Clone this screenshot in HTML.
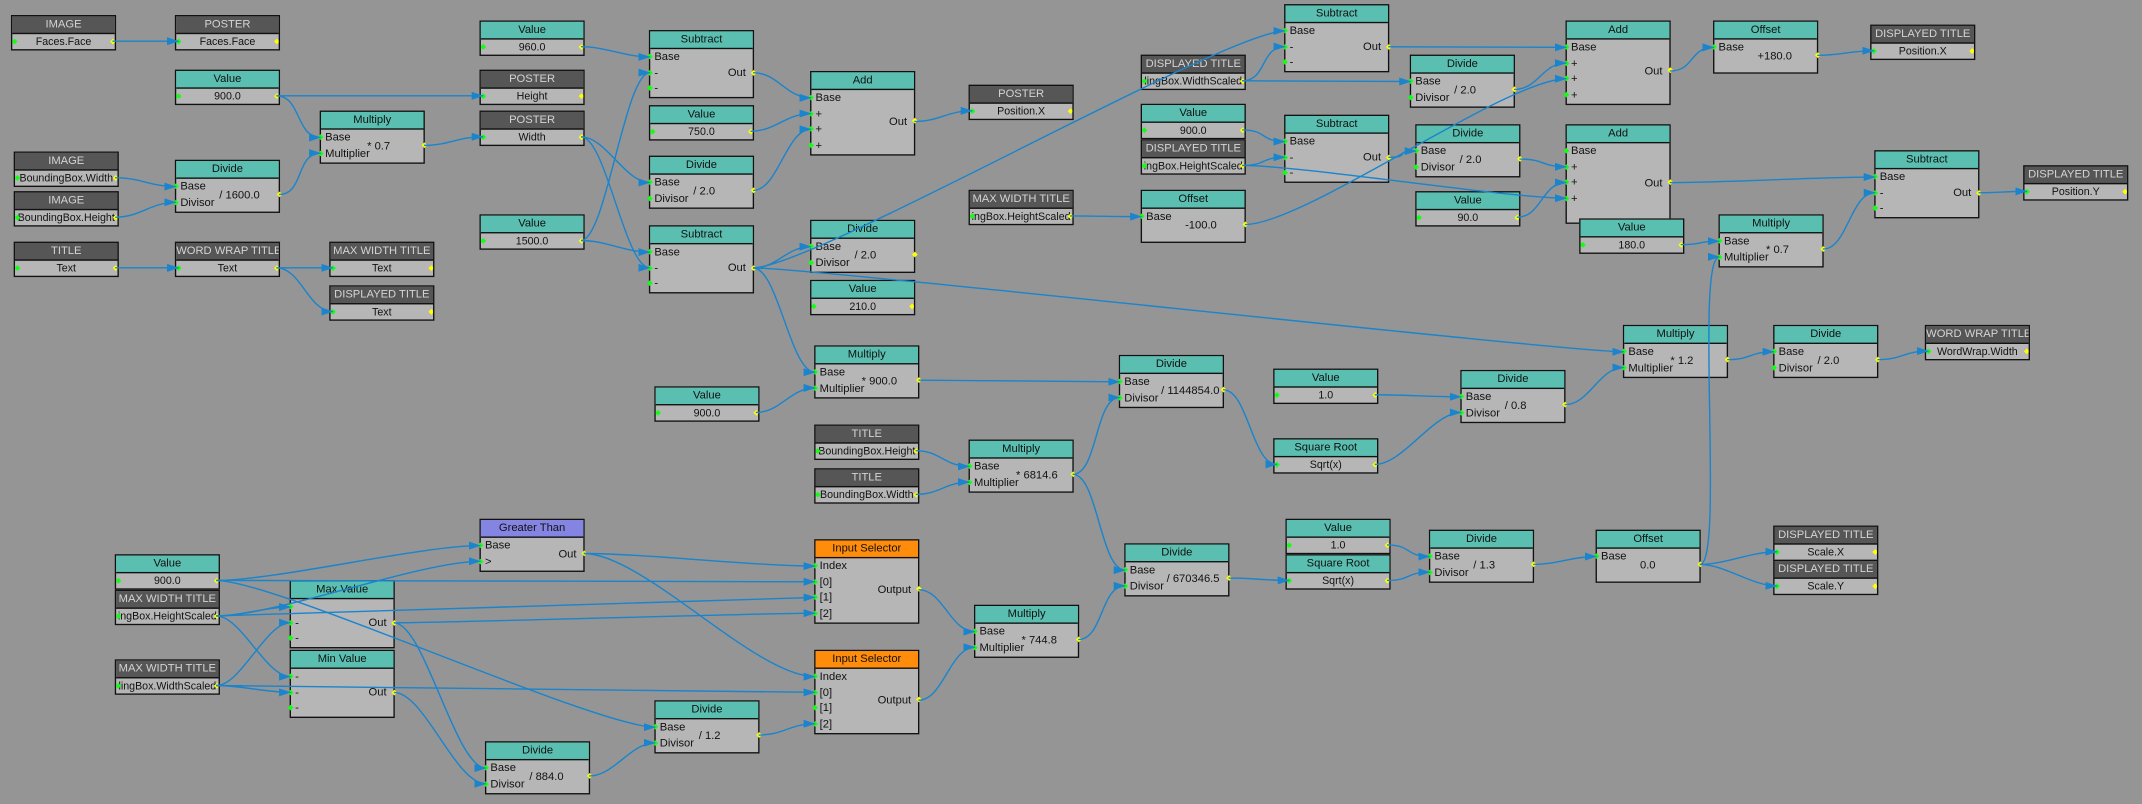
<!DOCTYPE html>
<html><head><meta charset="utf-8"><style>
html,body{margin:0;padding:0;background:#959595;width:2142px;height:804px;overflow:hidden}
#c{position:absolute;left:0;top:0;width:1568px;height:589px;transform:scale(1.36607,1.36503);transform-origin:0 0}
.n{position:absolute;border:1px solid #111;background:#b6b6b6;font:8.2px "Liberation Sans",sans-serif;color:#111;box-sizing:border-box;width:77px}
.h{height:11.5px;line-height:11.5px;text-align:center;background:#5abfb0;border-bottom:1px solid #111;color:#111;white-space:nowrap;overflow:hidden}
.h.d{background:#565656;color:#d4d4d4}
.h.p{background:#8484e2}
.h.o{background:#ff8c0a}
.r{height:11.5px;line-height:11.5px;padding-left:3px;position:relative;white-space:nowrap}
.v{text-align:center;padding:0;font-size:7.8px;overflow:hidden}
.bd{position:relative;padding:0.5px 0}
.pi,.po{position:absolute;width:3.4px;height:3.4px;transform:rotate(45deg);display:block}
.pi{left:-2px;top:4px;background:#1f1}
.po{right:-2px;top:4px;background:#ff0}
.v .pi{left:0}
.v .po{right:0}
.po.m{top:calc(50% - 1.7px)}
.prm{position:absolute;left:42%;top:50%;transform:translateY(-50%);white-space:nowrap}
.ot{position:absolute;right:5px;top:50%;transform:translateY(-50%)}
svg{position:absolute;left:0;top:0}
</style></head><body>
<svg id="w" width="2142" height="804"><defs><marker id="ar" markerWidth="12" markerHeight="8" refX="11.5" refY="4" orient="auto" markerUnits="userSpaceOnUse"><path d="M0,0 L12,4 L0,8 Z" fill="#1a84cc"/></marker></defs></svg>
<div id="c">
<div class="n" style="left:8px;top:11px"><div class="h d">IMAGE</div><div class="r v"><i class="pi" id="i1_0"></i>Faces.Face<i class="po" id="o1"></i></div></div>
<div class="n" style="left:128px;top:11px"><div class="h d">POSTER</div><div class="r v"><i class="pi" id="i2_0"></i>Faces.Face<i class="po" id="o2"></i></div></div>
<div class="n" style="left:128px;top:51px"><div class="h">Value</div><div class="r v"><i class="pi" id="i3_0"></i>900.0<i class="po" id="o3"></i></div></div>
<div class="n" style="left:234px;top:81px"><div class="h">Multiply</div><div class="bd"><div class="r"><i class="pi" id="i4_0"></i>Base</div><div class="r"><i class="pi" id="i4_1"></i>Multiplier</div><span class="prm" style="left:45%">* 0.7</span><i class="po m" id="o4"></i></div></div>
<div class="n" style="left:10px;top:111px"><div class="h d">IMAGE</div><div class="r v"><i class="pi" id="i5_0"></i>BoundingBox.Width<i class="po" id="o5"></i></div></div>
<div class="n" style="left:10px;top:140px"><div class="h d">IMAGE</div><div class="r v"><i class="pi" id="i6_0"></i>BoundingBox.Height<i class="po" id="o6"></i></div></div>
<div class="n" style="left:128px;top:117px"><div class="h">Divide</div><div class="bd"><div class="r"><i class="pi" id="i7_0"></i>Base</div><div class="r"><i class="pi" id="i7_1"></i>Divisor</div><span class="prm">/ 1600.0</span><i class="po m" id="o7"></i></div></div>
<div class="n" style="left:10px;top:177px"><div class="h d">TITLE</div><div class="r v"><i class="pi" id="i8_0"></i>Text<i class="po" id="o8"></i></div></div>
<div class="n" style="left:128px;top:177px"><div class="h d">WORD WRAP TITLE</div><div class="r v"><i class="pi" id="i9_0"></i>Text<i class="po" id="o9"></i></div></div>
<div class="n" style="left:241px;top:177px"><div class="h d">MAX WIDTH TITLE</div><div class="r v"><i class="pi" id="i10_0"></i>Text<i class="po" id="o10"></i></div></div>
<div class="n" style="left:241px;top:209px"><div class="h d">DISPLAYED TITLE</div><div class="r v"><i class="pi" id="i11_0"></i>Text<i class="po" id="o11"></i></div></div>
<div class="n" style="left:351px;top:15px"><div class="h">Value</div><div class="r v"><i class="pi" id="i12_0"></i>960.0<i class="po" id="o12"></i></div></div>
<div class="n" style="left:351px;top:51px"><div class="h d">POSTER</div><div class="r v"><i class="pi" id="i13_0"></i>Height<i class="po" id="o13"></i></div></div>
<div class="n" style="left:351px;top:81px"><div class="h d">POSTER</div><div class="r v"><i class="pi" id="i14_0"></i>Width<i class="po" id="o14"></i></div></div>
<div class="n" style="left:351px;top:157px"><div class="h">Value</div><div class="r v"><i class="pi" id="i15_0"></i>1500.0<i class="po" id="o15"></i></div></div>
<div class="n" style="left:475px;top:22px"><div class="h">Subtract</div><div class="bd"><div class="r"><i class="pi" id="i16_0"></i>Base</div><div class="r"><i class="pi" id="i16_1"></i>-</div><div class="r"><i class="pi" id="i16_2"></i>-</div><span class="ot">Out</span><i class="po m" id="o16"></i></div></div>
<div class="n" style="left:475px;top:77px"><div class="h">Value</div><div class="r v"><i class="pi" id="i17_0"></i>750.0<i class="po" id="o17"></i></div></div>
<div class="n" style="left:475px;top:114px"><div class="h">Divide</div><div class="bd"><div class="r"><i class="pi" id="i18_0"></i>Base</div><div class="r"><i class="pi" id="i18_1"></i>Divisor</div><span class="prm">/ 2.0</span><i class="po m" id="o18"></i></div></div>
<div class="n" style="left:475px;top:165px"><div class="h">Subtract</div><div class="bd"><div class="r"><i class="pi" id="i19_0"></i>Base</div><div class="r"><i class="pi" id="i19_1"></i>-</div><div class="r"><i class="pi" id="i19_2"></i>-</div><span class="ot">Out</span><i class="po m" id="o19"></i></div></div>
<div class="n" style="left:593px;top:52px"><div class="h">Add</div><div class="bd"><div class="r"><i class="pi" id="i20_0"></i>Base</div><div class="r"><i class="pi" id="i20_1"></i>+</div><div class="r"><i class="pi" id="i20_2"></i>+</div><div class="r"><i class="pi" id="i20_3"></i>+</div><span class="ot">Out</span><i class="po m" id="o20"></i></div></div>
<div class="n" style="left:593px;top:161px"><div class="h">Divide</div><div class="bd"><div class="r"><i class="pi" id="i21_0"></i>Base</div><div class="r"><i class="pi" id="i21_1"></i>Divisor</div><span class="prm">/ 2.0</span><i class="po m" id="o21"></i></div></div>
<div class="n" style="left:593px;top:205px"><div class="h">Value</div><div class="r v"><i class="pi" id="i22_0"></i>210.0<i class="po" id="o22"></i></div></div>
<div class="n" style="left:596px;top:253px"><div class="h">Multiply</div><div class="bd"><div class="r"><i class="pi" id="i23_0"></i>Base</div><div class="r"><i class="pi" id="i23_1"></i>Multiplier</div><span class="prm" style="left:45%">* 900.0</span><i class="po m" id="o23"></i></div></div>
<div class="n" style="left:479px;top:283px"><div class="h">Value</div><div class="r v"><i class="pi" id="i24_0"></i>900.0<i class="po" id="o24"></i></div></div>
<div class="n" style="left:709px;top:62px"><div class="h d">POSTER</div><div class="r v"><i class="pi" id="i25_0"></i>Position.X<i class="po" id="o25"></i></div></div>
<div class="n" style="left:709px;top:139px"><div class="h d">MAX WIDTH TITLE</div><div class="r v"><i class="pi" id="i26_0"></i>ingBox.HeightScaled<i class="po" id="o26"></i></div></div>
<div class="n" style="left:835px;top:139px"><div class="h">Offset</div><div class="bd"><div class="r"><i class="pi" id="i27_0"></i>Base</div><div class="r"></div><span class="prm">-100.0</span><i class="po m" id="o27"></i></div></div>
<div class="n" style="left:835px;top:40px"><div class="h d">DISPLAYED TITLE</div><div class="r v"><i class="pi" id="i28_0"></i>lingBox.WidthScaled<i class="po" id="o28"></i></div></div>
<div class="n" style="left:835px;top:76px"><div class="h">Value</div><div class="r v"><i class="pi" id="i29_0"></i>900.0<i class="po" id="o29"></i></div></div>
<div class="n" style="left:835px;top:102px"><div class="h d">DISPLAYED TITLE</div><div class="r v"><i class="pi" id="i30_0"></i>ingBox.HeightScaled<i class="po" id="o30"></i></div></div>
<div class="n" style="left:940px;top:3px"><div class="h">Subtract</div><div class="bd"><div class="r"><i class="pi" id="i31_0"></i>Base</div><div class="r"><i class="pi" id="i31_1"></i>-</div><div class="r"><i class="pi" id="i31_2"></i>-</div><span class="ot">Out</span><i class="po m" id="o31"></i></div></div>
<div class="n" style="left:1032px;top:40px"><div class="h">Divide</div><div class="bd"><div class="r"><i class="pi" id="i32_0"></i>Base</div><div class="r"><i class="pi" id="i32_1"></i>Divisor</div><span class="prm">/ 2.0</span><i class="po m" id="o32"></i></div></div>
<div class="n" style="left:940px;top:84px"><div class="h">Subtract</div><div class="bd"><div class="r"><i class="pi" id="i33_0"></i>Base</div><div class="r"><i class="pi" id="i33_1"></i>-</div><div class="r"><i class="pi" id="i33_2"></i>-</div><span class="ot">Out</span><i class="po m" id="o33"></i></div></div>
<div class="n" style="left:1036px;top:91px"><div class="h">Divide</div><div class="bd"><div class="r"><i class="pi" id="i34_0"></i>Base</div><div class="r"><i class="pi" id="i34_1"></i>Divisor</div><span class="prm">/ 2.0</span><i class="po m" id="o34"></i></div></div>
<div class="n" style="left:1036px;top:140px"><div class="h">Value</div><div class="r v"><i class="pi" id="i35_0"></i>90.0<i class="po" id="o35"></i></div></div>
<div class="n" style="left:1146px;top:15px"><div class="h">Add</div><div class="bd"><div class="r"><i class="pi" id="i36_0"></i>Base</div><div class="r"><i class="pi" id="i36_1"></i>+</div><div class="r"><i class="pi" id="i36_2"></i>+</div><div class="r"><i class="pi" id="i36_3"></i>+</div><span class="ot">Out</span><i class="po m" id="o36"></i></div></div>
<div class="n" style="left:1146px;top:91px"><div class="h">Add</div><div class="bd"><div class="r"><i class="pi" id="i37_0"></i>Base</div><div class="r"><i class="pi" id="i37_1"></i>+</div><div class="r"><i class="pi" id="i37_2"></i>+</div><div class="r"><i class="pi" id="i37_3"></i>+</div><div class="r"></div><span class="ot">Out</span><i class="po m" id="o37"></i></div></div>
<div class="n" style="left:1254px;top:15px"><div class="h">Offset</div><div class="bd"><div class="r"><i class="pi" id="i38_0"></i>Base</div><div class="r"></div><span class="prm">+180.0</span><i class="po m" id="o38"></i></div></div>
<div class="n" style="left:1369px;top:18px"><div class="h d">DISPLAYED TITLE</div><div class="r v"><i class="pi" id="i39_0"></i>Position.X<i class="po" id="o39"></i></div></div>
<div class="n" style="left:1372px;top:110px"><div class="h">Subtract</div><div class="bd"><div class="r"><i class="pi" id="i40_0"></i>Base</div><div class="r"><i class="pi" id="i40_1"></i>-</div><div class="r"><i class="pi" id="i40_2"></i>-</div><span class="ot">Out</span><i class="po m" id="o40"></i></div></div>
<div class="n" style="left:1481px;top:121px"><div class="h d">DISPLAYED TITLE</div><div class="r v"><i class="pi" id="i41_0"></i>Position.Y<i class="po" id="o41"></i></div></div>
<div class="n" style="left:1156px;top:160px"><div class="h">Value</div><div class="r v"><i class="pi" id="i42_0"></i>180.0<i class="po" id="o42"></i></div></div>
<div class="n" style="left:1258px;top:157px"><div class="h">Multiply</div><div class="bd"><div class="r"><i class="pi" id="i43_0"></i>Base</div><div class="r"><i class="pi" id="i43_1"></i>Multiplier</div><span class="prm" style="left:45%">* 0.7</span><i class="po m" id="o43"></i></div></div>
<div class="n" style="left:1188px;top:238px"><div class="h">Multiply</div><div class="bd"><div class="r"><i class="pi" id="i44_0"></i>Base</div><div class="r"><i class="pi" id="i44_1"></i>Multiplier</div><span class="prm" style="left:45%">* 1.2</span><i class="po m" id="o44"></i></div></div>
<div class="n" style="left:1298px;top:238px"><div class="h">Divide</div><div class="bd"><div class="r"><i class="pi" id="i45_0"></i>Base</div><div class="r"><i class="pi" id="i45_1"></i>Divisor</div><span class="prm">/ 2.0</span><i class="po m" id="o45"></i></div></div>
<div class="n" style="left:1409px;top:238px"><div class="h d">WORD WRAP TITLE</div><div class="r v"><i class="pi" id="i46_0"></i>WordWrap.Width<i class="po" id="o46"></i></div></div>
<div class="n" style="left:819px;top:260px"><div class="h">Divide</div><div class="bd"><div class="r"><i class="pi" id="i47_0"></i>Base</div><div class="r"><i class="pi" id="i47_1"></i>Divisor</div><span class="prm" style="left:40%">/ 1144854.0</span><i class="po m" id="o47"></i></div></div>
<div class="n" style="left:932px;top:270px"><div class="h">Value</div><div class="r v"><i class="pi" id="i48_0"></i>1.0<i class="po" id="o48"></i></div></div>
<div class="n" style="left:1069px;top:271px"><div class="h">Divide</div><div class="bd"><div class="r"><i class="pi" id="i49_0"></i>Base</div><div class="r"><i class="pi" id="i49_1"></i>Divisor</div><span class="prm">/ 0.8</span><i class="po m" id="o49"></i></div></div>
<div class="n" style="left:932px;top:321px"><div class="h">Square Root</div><div class="r v"><i class="pi" id="i50_0"></i>Sqrt(x)<i class="po" id="o50"></i></div></div>
<div class="n" style="left:596px;top:311px"><div class="h d">TITLE</div><div class="r v"><i class="pi" id="i51_0"></i>BoundingBox.Height<i class="po" id="o51"></i></div></div>
<div class="n" style="left:596px;top:343px"><div class="h d">TITLE</div><div class="r v"><i class="pi" id="i52_0"></i>BoundingBox.Width<i class="po" id="o52"></i></div></div>
<div class="n" style="left:709px;top:322px"><div class="h">Multiply</div><div class="bd"><div class="r"><i class="pi" id="i53_0"></i>Base</div><div class="r"><i class="pi" id="i53_1"></i>Multiplier</div><span class="prm" style="left:45%">* 6814.6</span><i class="po m" id="o53"></i></div></div>
<div class="n" style="left:351px;top:380px"><div class="h p">Greater Than</div><div class="bd"><div class="r"><i class="pi" id="i54_0"></i>Base</div><div class="r"><i class="pi" id="i54_1"></i>&gt;</div><span class="ot">Out</span><i class="po m" id="o54"></i></div></div>
<div class="n" style="left:84px;top:406px"><div class="h">Value</div><div class="r v"><i class="pi" id="i55_0"></i>900.0<i class="po" id="o55"></i></div></div>
<div class="n" style="left:84px;top:432px"><div class="h d">MAX WIDTH TITLE</div><div class="r v"><i class="pi" id="i56_0"></i>ingBox.HeightScaled<i class="po" id="o56"></i></div></div>
<div class="n" style="left:212px;top:425px"><div class="h">Max Value</div><div class="bd"><div class="r"><i class="pi" id="i57_0"></i></div><div class="r"><i class="pi" id="i57_1"></i>-</div><div class="r"><i class="pi" id="i57_2"></i>-</div><span class="ot">Out</span><i class="po m" id="o57"></i></div></div>
<div class="n" style="left:84px;top:483px"><div class="h d">MAX WIDTH TITLE</div><div class="r v"><i class="pi" id="i58_0"></i>lingBox.WidthScaled<i class="po" id="o58"></i></div></div>
<div class="n" style="left:212px;top:476px"><div class="h">Min Value</div><div class="bd"><div class="r"><i class="pi" id="i59_0"></i>-</div><div class="r"><i class="pi" id="i59_1"></i>-</div><div class="r"><i class="pi" id="i59_2"></i>-</div><span class="ot">Out</span><i class="po m" id="o59"></i></div></div>
<div class="n" style="left:596px;top:395px"><div class="h o">Input Selector</div><div class="bd"><div class="r"><i class="pi" id="i60_0"></i>Index</div><div class="r"><i class="pi" id="i60_1"></i>[0]</div><div class="r"><i class="pi" id="i60_2"></i>[1]</div><div class="r"><i class="pi" id="i60_3"></i>[2]</div><span class="ot">Output</span><i class="po m" id="o60"></i></div></div>
<div class="n" style="left:596px;top:476px"><div class="h o">Input Selector</div><div class="bd"><div class="r"><i class="pi" id="i61_0"></i>Index</div><div class="r"><i class="pi" id="i61_1"></i>[0]</div><div class="r"><i class="pi" id="i61_2"></i>[1]</div><div class="r"><i class="pi" id="i61_3"></i>[2]</div><span class="ot">Output</span><i class="po m" id="o61"></i></div></div>
<div class="n" style="left:713px;top:443px"><div class="h">Multiply</div><div class="bd"><div class="r"><i class="pi" id="i62_0"></i>Base</div><div class="r"><i class="pi" id="i62_1"></i>Multiplier</div><span class="prm" style="left:45%">* 744.8</span><i class="po m" id="o62"></i></div></div>
<div class="n" style="left:823px;top:398px"><div class="h">Divide</div><div class="bd"><div class="r"><i class="pi" id="i63_0"></i>Base</div><div class="r"><i class="pi" id="i63_1"></i>Divisor</div><span class="prm" style="left:40%">/ 670346.5</span><i class="po m" id="o63"></i></div></div>
<div class="n" style="left:941px;top:380px"><div class="h">Value</div><div class="r v"><i class="pi" id="i64_0"></i>1.0<i class="po" id="o64"></i></div></div>
<div class="n" style="left:941px;top:406px"><div class="h">Square Root</div><div class="r v"><i class="pi" id="i65_0"></i>Sqrt(x)<i class="po" id="o65"></i></div></div>
<div class="n" style="left:1046px;top:388px"><div class="h">Divide</div><div class="bd"><div class="r"><i class="pi" id="i66_0"></i>Base</div><div class="r"><i class="pi" id="i66_1"></i>Divisor</div><span class="prm">/ 1.3</span><i class="po m" id="o66"></i></div></div>
<div class="n" style="left:1168px;top:388px"><div class="h">Offset</div><div class="bd"><div class="r"><i class="pi" id="i67_0"></i>Base</div><div class="r"></div><span class="prm">0.0</span><i class="po m" id="o67"></i></div></div>
<div class="n" style="left:1298px;top:385px"><div class="h d">DISPLAYED TITLE</div><div class="r v"><i class="pi" id="i68_0"></i>Scale.X<i class="po" id="o68"></i></div></div>
<div class="n" style="left:1298px;top:410px"><div class="h d">DISPLAYED TITLE</div><div class="r v"><i class="pi" id="i69_0"></i>Scale.Y<i class="po" id="o69"></i></div></div>
<div class="n" style="left:479px;top:513px"><div class="h">Divide</div><div class="bd"><div class="r"><i class="pi" id="i70_0"></i>Base</div><div class="r"><i class="pi" id="i70_1"></i>Divisor</div><span class="prm">/ 1.2</span><i class="po m" id="o70"></i></div></div>
<div class="n" style="left:355px;top:543px"><div class="h">Divide</div><div class="bd"><div class="r"><i class="pi" id="i71_0"></i>Base</div><div class="r"><i class="pi" id="i71_1"></i>Divisor</div><span class="prm">/ 884.0</span><i class="po m" id="o71"></i></div></div>
</div>
<script>
var W=[[1,2,0],[3,13,0],[3,4,0],[7,4,1],[5,7,0],[6,7,1],[4,14,0],[8,9,0],[9,10,0],[9,11,0],
[12,16,0],[15,16,1],[14,19,1],[15,19,0],[14,18,0],[16,20,0],[17,20,1],[18,20,2],[20,25,0],
[19,21,0],[19,23,0],[19,44,0],[19,31,0],[24,23,1],[23,47,0],[26,27,0],[28,31,1],[28,32,0],
[29,33,0],[30,33,1],[33,34,0],[31,36,0],[32,36,1],[27,36,2],[34,37,1],[35,37,2],[30,37,3],
[36,38,0],[38,39,0],[37,40,0],[43,40,1],[40,41,0],[42,43,0],[67,43,1],[49,44,1],[44,45,0],[45,46,0],
[47,50,0],[48,49,0],[50,49,1],[51,53,0],[52,53,1],[53,47,1],[53,63,0],
[55,54,0],[56,54,1],[55,60,1],[56,60,2],[56,57,0],[58,57,1],[56,59,0],[58,59,1],[58,61,1],
[54,60,0],[54,61,0],[57,71,0],[59,71,1],[55,70,0],[71,70,1],[70,61,3],[57,60,3],
[60,62,0],[61,62,1],[62,63,1],[63,65,0],[64,66,0],[65,66,1],[66,67,0],[67,68,0],[67,69,0]];
var s=document.getElementById('w'),ns='http://www.w3.org/2000/svg';
function c(id){var r=document.getElementById(id).getBoundingClientRect();return [r.left+r.width/2,r.top+r.height/2];}
W.forEach(function(e){var a=c('o'+e[0]),b=c('i'+e[1]+'_'+e[2]);var d=Math.max(25,Math.min(60,Math.abs(b[0]-a[0])/3));
var p=document.createElementNS(ns,'path');p.setAttribute('d','M'+a[0]+','+a[1]+' C'+(a[0]+d)+','+a[1]+' '+(b[0]-d)+','+b[1]+' '+b[0]+','+b[1]);
p.setAttribute('fill','none');p.setAttribute('stroke','#1a84cc');p.setAttribute('stroke-width','1.4');p.setAttribute('marker-end','url(#ar)');s.appendChild(p);});
s.parentNode.appendChild(s);s.style.pointerEvents='none';
</script>
</body></html>
